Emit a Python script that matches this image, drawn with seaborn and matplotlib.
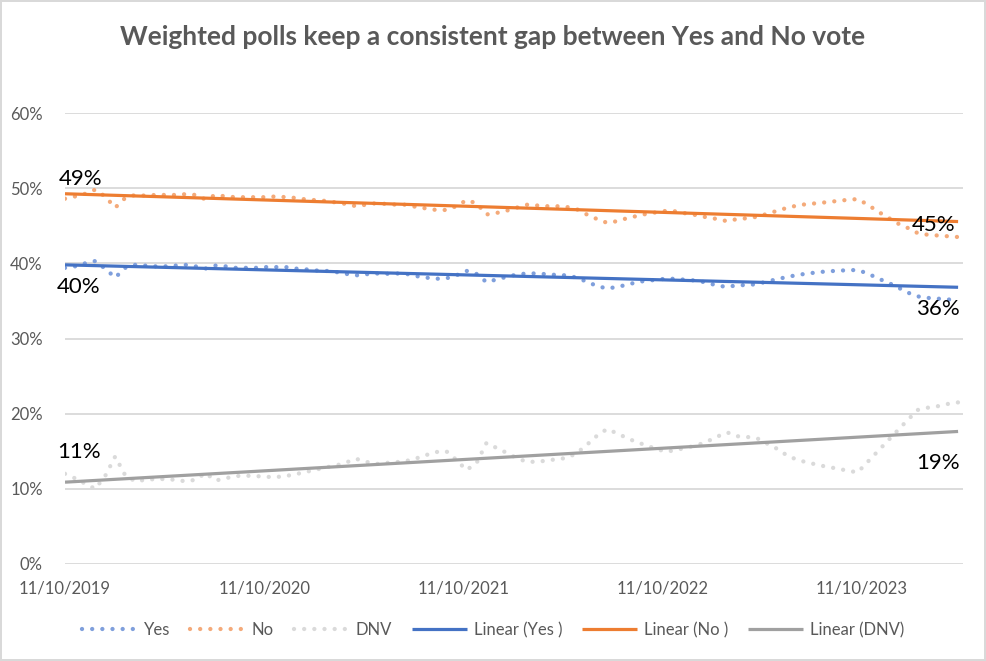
import matplotlib
matplotlib.use('Agg')
import matplotlib.pyplot as plt
import matplotlib.dates as mdates
import numpy as np
import pandas as pd
import seaborn as sns
from matplotlib.ticker import FuncFormatter

# poll dates: roughly every 18 days, 11 Oct 2019 to early Apr 2024
dates = pd.date_range('2019-10-11', '2024-04-05', periods=90)

yes = [39.4, 39.6, 40.0, 40.3, 39.3, 38.1, 39.4, 39.8, 39.7, 39.6,
       39.6, 39.7, 39.8, 39.6, 39.3, 39.7, 39.6, 39.4, 39.4, 39.4,
       39.5, 39.5, 39.5, 39.3, 39.2, 39.05, 39.0, 38.85, 38.6, 38.4,
       38.55, 38.65, 38.6, 38.65, 38.6, 38.3, 38.1, 37.95, 38.0, 38.4,
       39.0, 38.6, 37.5, 37.85, 38.2, 38.5, 38.65, 38.65, 38.55, 38.45,
       38.4, 38.1, 37.55, 37.0, 36.65, 36.85, 37.15, 37.5, 37.7, 37.8,
       38.0, 37.9, 37.8, 37.7, 37.4, 37.05, 36.85, 37.1, 37.1, 37.25,
       37.6, 37.9, 38.2, 38.45, 38.65, 38.8, 38.95, 39.0, 39.1, 39.1,
       38.65, 38.0, 37.45, 36.8, 36.1, 35.6, 35.4, 35.3, 35.2, 35.05]

no = [48.6, 48.9, 49.25, 49.8, 48.9, 47.4, 48.7, 49.1, 49.0, 49.1,
      49.1, 49.1, 49.2, 49.1, 48.5, 49.1, 48.9, 48.8, 48.8, 48.8,
      48.8, 48.9, 48.8, 48.7, 48.5, 48.4, 48.3, 48.1, 47.9, 47.6,
      47.8, 48.0, 47.9, 47.8, 47.8, 47.5, 47.3, 47.1, 47.1, 47.6,
      48.4, 48.0, 46.5, 46.7, 47.0, 47.4, 47.8, 47.7, 47.6, 47.6,
      47.5, 47.2, 46.5, 45.9, 45.4, 45.6, 46.0, 46.3, 46.6, 46.8,
      47.0, 46.9, 46.6, 46.4, 46.1, 45.9, 45.6, 45.9, 46.0, 46.2,
      46.6, 47.0, 47.4, 47.7, 47.9, 48.0, 48.15, 48.3, 48.45, 48.55,
      47.8, 46.9, 46.1, 45.3, 44.7, 44.0, 43.8, 43.7, 43.6, 43.5]

dnv = [12.0, 11.4, 10.7, 10.0, 11.7, 14.3, 11.8, 11.0, 11.2, 11.3,
       11.3, 11.2, 11.0, 11.2, 12.1, 11.1, 11.4, 11.7, 11.75, 11.7,
       11.6, 11.56, 11.7, 11.95, 12.25, 12.55, 12.85, 13.1, 13.5, 14.0,
       13.6, 13.3, 13.45, 13.55, 13.7, 14.05, 14.5, 14.9, 15.0, 13.85,
       12.5, 13.4, 16.1, 15.45, 14.8, 14.1, 13.6, 13.6, 13.75, 13.95,
       14.1, 14.75, 15.85, 17.05, 17.95, 17.4, 16.75, 16.2, 15.75, 15.25,
       14.95, 15.2, 15.5, 15.8, 16.3, 16.95, 17.5, 17.0, 16.9, 16.7,
       16.0, 15.3, 14.4, 13.85, 13.5, 13.2, 12.9, 12.7, 12.4, 12.2,
       13.6, 15.0, 16.4, 17.8, 19.2, 20.5, 20.8, 21.0, 21.3, 21.5]

start_labels = ['40%', '49%', '11%']
end_labels = ['36%', '45%', '19%']

dot_colors = ['#7f9fdc', '#f4aa7a', '#dadada']
trend_colors = ['#4472c4', '#ed7d31', '#a0a0a0']
names = ['Yes', 'No', 'DNV']
trend_names = ['Linear (Yes )', 'Linear (No )', 'Linear (DNV)']

sns.set_theme(style='white')
plt.rcParams['font.family'] = ['Lato', 'DejaVu Sans']

fig = plt.figure(figsize=(9.86, 6.61), dpi=100, edgecolor='#d9d9d9', linewidth=1.5)
ax = fig.add_axes([65 / 986, 1 - 564 / 661, 898 / 986, 451 / 661])

df = pd.DataFrame({'date': dates, 'Yes': yes, 'No': no, 'DNV': dnv})
xnum = mdates.date2num(df['date'])

for name, col in zip(names, dot_colors):
    sns.lineplot(data=df, x='date', y=name, ax=ax, color=col, lw=3.1,
                 linestyle=(0, (0.01, 2.35)), dash_capstyle='round', label=name)

trends = {}
for name, tname, col in zip(names, trend_names, trend_colors):
    k, b = np.polyfit(xnum, df[name], 1)
    trends[name] = k * xnum + b
    sns.lineplot(x=df['date'], y=trends[name], ax=ax, color=col, lw=2.3,
                 solid_capstyle='butt', label=tname)

# data labels at the ends of the trend lines
start_offsets = [(14, -22), (16, 15), (14, 30)]
end_offsets = [(-20, -22), (-25, -3), (-20, -32)]
for i, name in enumerate(names):
    ax.annotate(start_labels[i], xy=(df['date'].iloc[0], trends[name][0]),
                xytext=start_offsets[i], textcoords='offset pixels',
                ha='center', va='center', fontsize=16, color='black')
    ax.annotate(end_labels[i], xy=(df['date'].iloc[-1], trends[name][-1]),
                xytext=end_offsets[i], textcoords='offset pixels',
                ha='center', va='center', fontsize=16, color='black')

ax.set_ylim(0, 60)
ax.set_yticks(range(0, 61, 10))
ax.yaxis.set_major_formatter(FuncFormatter(lambda v, p: f'{v:.0f}%'))
ax.set_xlim(pd.Timestamp('2019-10-11'), pd.Timestamp('2024-04-14'))
ax.set_xticks(pd.to_datetime(['2019-10-11', '2020-10-11', '2021-10-11',
                              '2022-10-11', '2023-10-11']))
ax.xaxis.set_major_formatter(mdates.DateFormatter('%d/%m/%Y'))
ax.grid(axis='y', color='#d9d9d9', lw=1.3)
ax.set_axisbelow(True)
for s in ax.spines.values():
    s.set_visible(False)
ax.tick_params(axis='both', length=0, labelsize=12, labelcolor='#595959')
ax.tick_params(axis='y', pad=16)
ax.tick_params(axis='x', pad=12)
ax.set_xlabel('')
ax.set_ylabel('')

fig.suptitle('Weighted polls keep a consistent gap between Yes and No vote',
             y=1 - 37 / 661, va='center', fontsize=19, fontweight='bold', color='#595959')

ax.legend(loc='center', bbox_to_anchor=(0.5, 1 - 630 / 661), bbox_transform=fig.transFigure,
          ncol=6, frameon=False, fontsize=12, labelcolor='#595959',
          handlelength=3.3, columnspacing=1.2, handletextpad=0.4)

fig.savefig('out.png', dpi=100, edgecolor=fig.get_edgecolor())
